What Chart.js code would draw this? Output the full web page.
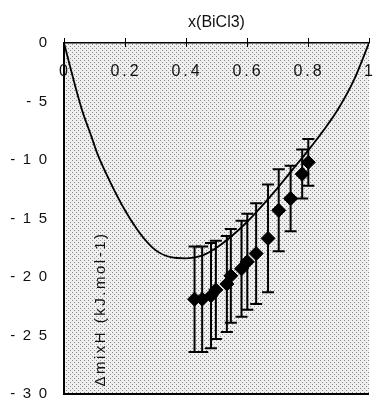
<!DOCTYPE html>
<html>
<head>
<meta charset="utf-8">
<script src="https://cdn.jsdelivr.net/npm/chart.js@4/dist/chart.umd.min.js"></script>
<style>
  html, body { margin: 0; padding: 0; background: #fff; }
  #wrap { width: 377px; height: 412px; }
</style>
</head>
<body>
<div id="wrap"><canvas id="c"></canvas></div>
<script>
// model curve
const curveX = [0, 0.02, 0.04, 0.06, 0.09, 0.11, 0.15, 0.2, 0.25, 0.3, 0.35, 0.4, 0.45, 0.5, 0.55, 0.6, 0.65, 0.7, 0.75, 0.8, 0.85, 0.9, 0.95, 1];
const curveY = [0, -2, -4, -5.8, -8, -9.5, -11.8, -14.3, -16.3, -17.7, -18.3, -18.4, -18.2, -17.5, -16.5, -15.3, -13.9, -12.4, -10.8, -9.2, -7.5, -5.6, -3.2, 0];

// measured points with error
const pointX = [0.428, 0.453, 0.482, 0.498, 0.534, 0.547, 0.582, 0.601, 0.630, 0.669, 0.704, 0.743, 0.781, 0.801];
const pointY = [-21.9, -21.9, -21.6, -21.1, -20.6, -19.9, -19.3, -18.7, -18.0, -16.7, -14.3, -13.3, -11.2, -10.2];
const pointErr = [4.5, 4.5, 4.5, 4.2, 4.1, 4.0, 4.1, 4.1, 4.3, 4.6, 3.5, 2.8, 2.1, 2.0];

const xTicks = [0, 0.2, 0.4, 0.6, 0.8, 1];
const xTickLabels = ['0', '0.2', '0.4', '0.6', '0.8', '1'];
const yTicks = [0, -5, -10, -15, -20, -25, -30];
const yTickLabels = ['0', '-\u20025', '-\u20021\u20020', '-\u20021\u20025', '-\u20022\u20020', '-\u20022\u20025', '-\u20023\u20020'];

const FONT = '"Liberation Sans", Arial, sans-serif';

const makeStipple = () => {
    const c = document.createElement('canvas');
    c.width = 4; c.height = 4;
    const g = c.getContext('2d');
    g.fillStyle = '#efefef';
    g.fillRect(0, 0, 4, 4);
    g.fillStyle = '#8a8a8a';
    g.fillRect(0, 0, 1, 1);
    g.fillRect(2, 2, 1, 1);
    return g.createPattern(c, 'repeat');
};

const framePlugin = {
    id: 'frame',
    beforeDraw(chart) {
        const { ctx, chartArea: a } = chart;
        ctx.save();
        ctx.fillStyle = makeStipple();
        ctx.fillRect(a.left, a.top, a.right - a.left, a.bottom - a.top);
        ctx.restore();
    },
    beforeDatasetsDraw(chart) {
        const { ctx, scales } = chart;
        ctx.save();
        ctx.strokeStyle = '#000';
        ctx.lineWidth = 2;
        pointX.forEach((x, i) => {
            const px = scales.x.getPixelForValue(x);
            const top = scales.y.getPixelForValue(pointY[i] + pointErr[i]);
            const bot = scales.y.getPixelForValue(pointY[i] - pointErr[i]);
            ctx.beginPath();
            ctx.moveTo(px, top); ctx.lineTo(px, bot);
            ctx.moveTo(px - 6, top); ctx.lineTo(px + 6, top);
            ctx.moveTo(px - 6, bot); ctx.lineTo(px + 6, bot);
            ctx.stroke();
        });
        ctx.restore();
    },
    afterDraw(chart) {
        const { ctx, chartArea: a, scales } = chart;
        ctx.save();
        // bottom frame line
        ctx.strokeStyle = '#000';
        ctx.lineWidth = 2;
        ctx.beginPath();
        ctx.moveTo(a.left, a.bottom);
        ctx.lineTo(a.right, a.bottom);
        ctx.stroke();
        // top tick marks poke into the plot as well
        ctx.lineWidth = 1;
        xTicks.slice(1, -1).forEach(v => {
            const px = Math.round(scales.x.getPixelForValue(v)) + 0.5;
            ctx.beginPath();
            ctx.moveTo(px, a.top);
            ctx.lineTo(px, a.top + 4);
            ctx.stroke();
        });
        // x tick labels, inside the plot
        ctx.fillStyle = '#111';
        ctx.font = '16px ' + FONT;
        ctx.letterSpacing = '3px';
        ctx.textAlign = 'center';
        ctx.textBaseline = 'middle';
        xTicks.forEach((v, i) => {
            ctx.fillText(xTickLabels[i], scales.x.getPixelForValue(v) + 1, a.top + 29);
        });
        // y title, inside the plot
        ctx.font = '15px ' + FONT;
        ctx.letterSpacing = '2.5px';
        ctx.translate(a.left + 37, 309);
        ctx.rotate(-Math.PI / 2);
        ctx.fillText('\u0394mixH (kJ.mol-1)', 0, 0);
        ctx.restore();
    }
};

new Chart(document.getElementById('c'), {
    type: 'scatter',
    data: {
        datasets: [
            {
                type: 'line',
                data: curveX.map((x, i) => ({ x: x, y: curveY[i] })),
                borderColor: '#000',
                borderWidth: 1.8,
                pointRadius: 0,
                cubicInterpolationMode: 'monotone',
                fill: false
            },
            {
                data: pointX.map((x, i) => ({ x: x, y: pointY[i] })),
                pointStyle: 'rectRot',
                pointRadius: 7,
                backgroundColor: '#000',
                borderColor: '#000'
            }
        ]
    },
    options: {
        responsive: true,
        maintainAspectRatio: false,
        animation: false,
        layout: { padding: { left: 0, right: 2, top: 0, bottom: -20 } },
        plugins: { legend: { display: false }, tooltip: { enabled: false } },
        scales: {
            x: {
                type: 'linear',
                position: 'top',
                min: 0,
                max: 1,
                afterFit: (s) => { s.height = 43; },
                afterBuildTicks: (s) => { s.ticks = xTicks.map(v => ({ value: v })); },
                ticks: { display: false },
                grid: { drawOnChartArea: false, drawTicks: true, tickLength: 5, color: '#000', lineWidth: 1 },
                border: { display: true, color: '#000', width: 1.5 },
                title: {
                    display: true,
                    text: 'x(BiCl3)',
                    color: '#111',
                    font: { family: FONT, size: 16 },
                    padding: { top: 13, bottom: 0 }
                }
            },
            y: {
                type: 'linear',
                min: -30,
                max: 0,
                afterFit: (s) => { s.width = 64; },
                afterBuildTicks: (s) => { s.ticks = yTicks.map(v => ({ value: v })); },
                ticks: {
                    color: '#111',
                    padding: 9,
                    font: { family: FONT, size: 15 },
                    callback: (v) => yTickLabels[yTicks.indexOf(v)]
                },
                grid: { display: false },
                border: { display: true, color: '#000', width: 2 }
            }
        }
    },
    plugins: [framePlugin]
});
</script>
</body>
</html>
